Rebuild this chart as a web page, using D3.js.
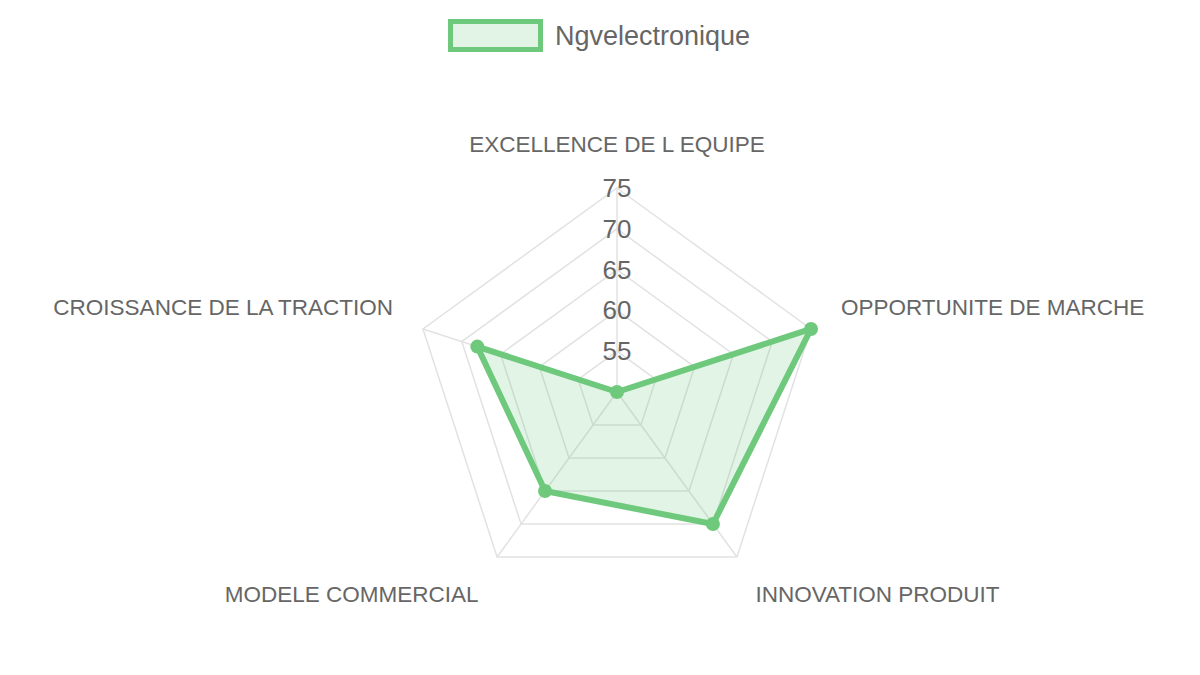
<!DOCTYPE html>
<html>
<head>
<meta charset="utf-8">
<script src="https://cdn.jsdelivr.net/npm/d3@7"></script>
<style>
  body { margin: 0; background: #fff; }
  text { font-family: "Liberation Sans", Arial, Helvetica, sans-serif; }
</style>
</head>
<body>
<div id="wrapper"></div>
<script>
// data
const seriesName = "Ngvelectronique"
const categories = [
  "EXCELLENCE DE L EQUIPE",
  "OPPORTUNITE DE MARCHE",
  "INNOVATION PRODUIT",
  "MODELE COMMERCIAL",
  "CROISSANCE DE LA TRACTION"
]
const values = [50, 75, 70, 65, 68]
const ticks = [55, 60, 65, 70, 75]

const dms = { width: 1200, height: 675, cx: 617, cy: 392, radius: 204 }

const svg = d3.select("#wrapper")
  .append("svg")
  .attr("width", dms.width)
  .attr("height", dms.height)

const rScale = d3.scaleLinear()
  .domain([50, 75])
  .range([0, dms.radius])

const angle = i => -Math.PI / 2 + i * 2 * Math.PI / categories.length
const pt = (i, r) => [dms.cx + r * Math.cos(angle(i)), dms.cy + r * Math.sin(angle(i))]

const grid = svg.append("g")

// rings
grid.selectAll(".ring")
  .data(ticks)
  .join("polygon")
    .attr("points", t => categories.map((c, i) => pt(i, rScale(t)).join(",")).join(" "))
    .attr("fill", "none")
    .attr("stroke", "#e2e2e2")
    .attr("stroke-width", 1.5)

// angle lines
grid.selectAll(".spoke")
  .data(categories)
  .join("line")
    .attr("x1", dms.cx)
    .attr("y1", dms.cy)
    .attr("x2", (c, i) => pt(i, rScale(75))[0])
    .attr("y2", (c, i) => pt(i, rScale(75))[1])
    .attr("stroke", "#e2e2e2")
    .attr("stroke-width", 1.5)

// point labels
const labelR = rScale(75) + 31.5
svg.append("g").selectAll("text")
  .data(categories)
  .join("text")
    .attr("x", (c, i) => pt(i, labelR)[0])
    .attr("y", (c, i) => {
      const y = pt(i, labelR)[1]
      return Math.sin(angle(i)) < 0 ? y - 12 : y + 12
    })
    .attr("text-anchor", (c, i) => {
      const cx = Math.cos(angle(i))
      return Math.abs(cx) < 0.01 ? "middle" : cx > 0 ? "start" : "end"
    })
    .attr("dominant-baseline", "central")
    .attr("font-size", 22.5)
    .attr("fill", "#666")
    .text(d => d)

// dataset
const line = d3.line()
svg.append("path")
  .attr("d", line(values.map((v, i) => pt(i, rScale(v)))) + "Z")
  .attr("fill", "rgba(110, 201, 125, 0.2)")
  .attr("stroke", "rgb(110, 201, 125)")
  .attr("stroke-width", 6)
  .attr("stroke-linejoin", "round")

svg.append("g").selectAll("circle")
  .data(values)
  .join("circle")
    .attr("cx", (v, i) => pt(i, rScale(v))[0])
    .attr("cy", (v, i) => pt(i, rScale(v))[1])
    .attr("r", 7)
    .attr("fill", "rgb(110, 201, 125)")

// tick labels
svg.append("g").selectAll("text")
  .data(ticks)
  .join("text")
    .attr("x", dms.cx)
    .attr("y", t => dms.cy - rScale(t))
    .attr("text-anchor", "middle")
    .attr("dominant-baseline", "central")
    .attr("font-size", 26)
    .attr("fill", "#666")
    .text(d => d)

// legend
const legend = svg.append("g")
legend.append("rect")
  .attr("x", 450.5)
  .attr("y", 21.5)
  .attr("width", 90)
  .attr("height", 28)
  .attr("fill", "rgba(110, 201, 125, 0.2)")
  .attr("stroke", "rgb(110, 201, 125)")
  .attr("stroke-width", 5)
legend.append("text")
  .attr("x", 555)
  .attr("y", 36)
  .attr("dominant-baseline", "central")
  .attr("font-size", 27)
  .attr("fill", "#666")
  .text(seriesName)
</script>
</body>
</html>
